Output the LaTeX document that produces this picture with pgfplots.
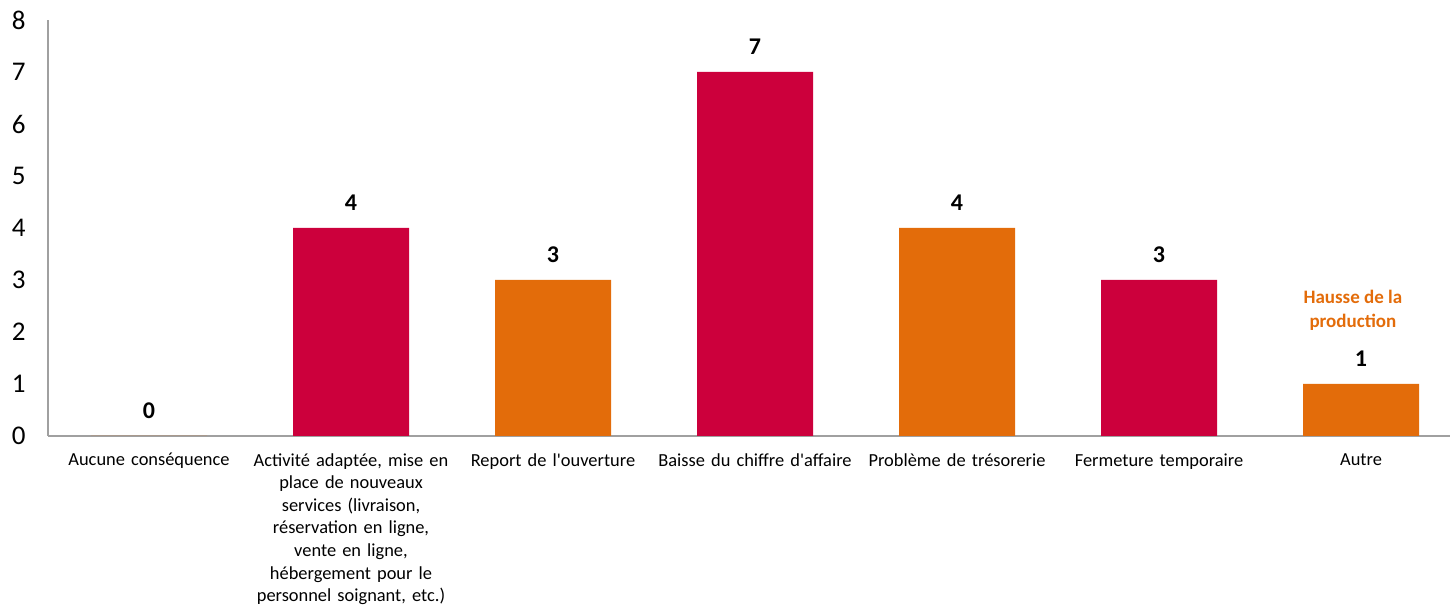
\documentclass[border=0pt]{standalone}
\usepackage{pgfplots}
\pgfplotsset{compat=1.18}
\usepackage{fontspec}
\setmainfont{Carlito}[Ligatures=TeXOff]
\usetikzlibrary{calc}
\definecolor{crim}{RGB}{204,0,60}
\definecolor{orng}{RGB}{227,108,10}
\definecolor{axgray}{RGB}{160,160,160}
\begin{document}
\begin{tikzpicture}
\begin{axis}[
  name=ax,
  scale only axis,
  width=707pt, height=208pt,
  xmin=-0.5, xmax=6.5, ymin=0, ymax=8,
  axis x line=bottom, axis y line=left,
  axis line style={-, color=axgray, line width=1pt},
  major tick length=0pt,
  ytick={0,1,...,8},
  xtick={0,1,2,3,4,5,6},
  xticklabels={
    {Aucune conséquence},
    {Activité adaptée, mise en\\place de nouveaux\\services (livraison,\\réservation en ligne,\\vente en ligne,\\hébergement pour le\\personnel soignant, etc.)},
    {Report de l'ouverture},
    {Baisse du chiffre d'affaire},
    {Problème de trésorerie},
    {Fermeture temporaire},
    {Autre}},
  xticklabel style={font=\fontsize{9.2}{11.3}\selectfont, align=center, text width=110pt, inner sep=0pt, anchor=north, yshift=-8.5pt},
  yticklabel style={font=\fontsize{13.5}{15}\selectfont, inner sep=0pt, xshift=-11pt},
  /pgf/number format/assume math mode=true,
  ybar, bar width=58pt,
  nodes near coords,
  every node near coord/.append style={font=\fontsize{12}{14}\selectfont\bfseries, color=black, inner sep=0pt, anchor=south, yshift=8.5pt},
  clip=false,
]
\addplot[fill=orng, draw=none, bar shift=0pt] coordinates {(0,0) (2,3) (4,4) (6,1)};
\addplot[fill=crim, draw=none, bar shift=0pt] coordinates {(1,4) (3,7) (5,3)};
\node[font=\fontsize{9.5}{12}\selectfont\bfseries, color=orng, align=center] at (axis cs:5.96,2.42) {Hausse de la\\production};
\end{axis}
\pgfresetboundingbox
\path[use as bounding box] ($(ax.south west)+(-24pt,-86pt)$) rectangle ($(ax.north east)+(-6pt,10pt)$);
\end{tikzpicture}
\end{document}
